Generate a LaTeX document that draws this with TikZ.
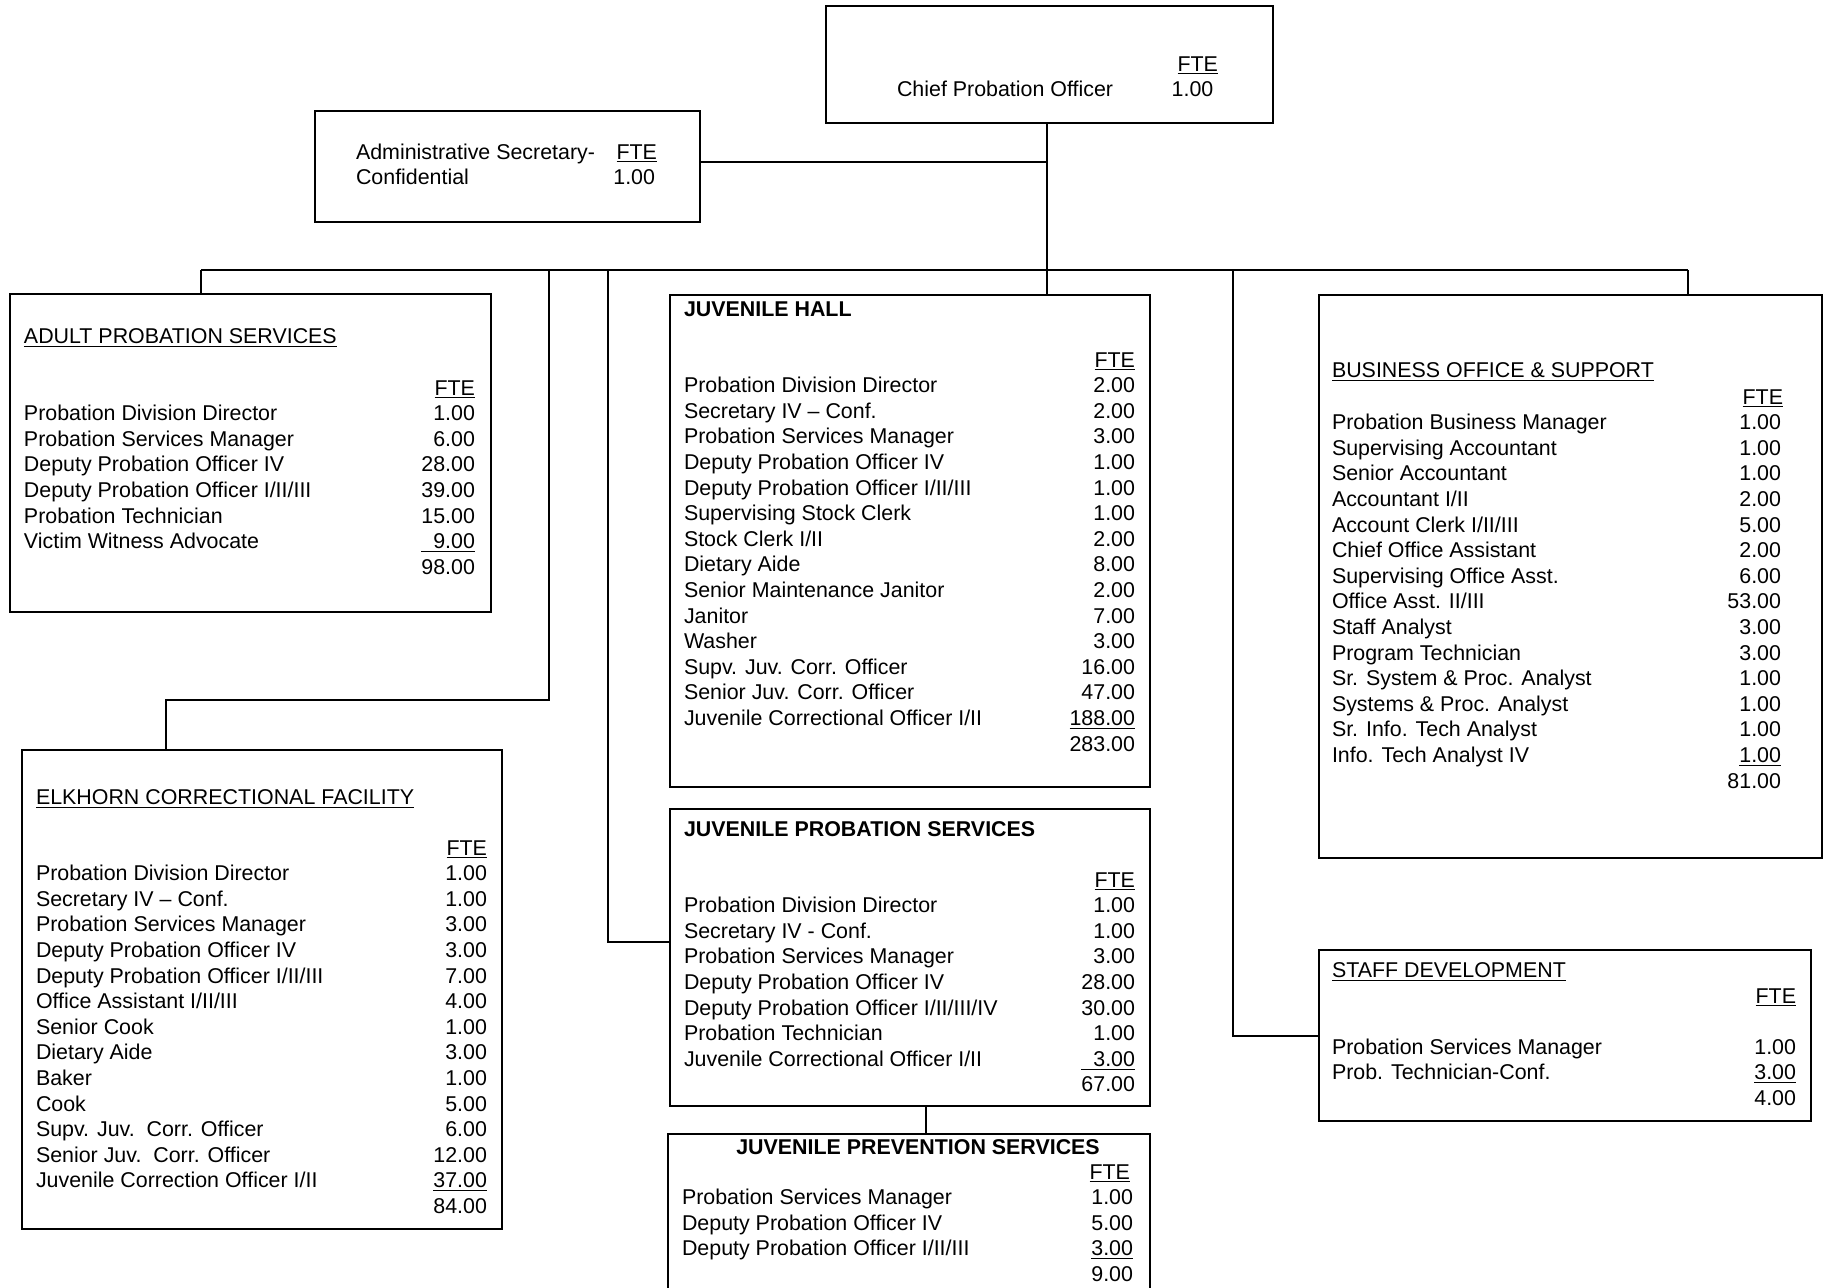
\documentclass[tikz,border=0pt]{standalone}
\usepackage{fontspec}
\setmainfont{Liberation Sans}
\usetikzlibrary{positioning,calc}
\newcommand{\ftetab}[2]{\begin{tabular*}{#1}[t]{@{}l@{\extracolsep{\fill}}r@{}}#2\end{tabular*}}
\begin{document}
\begin{tikzpicture}[x=0.5pt,y=-0.5pt,line width=1pt,
font=\fontsize{10.7}{12.8}\selectfont,
unitbox/.style={draw,anchor=north west,inner sep=0pt},
tbl/.style={anchor=base west,inner sep=0pt},
ttl/.style={anchor=base west,inner sep=0pt}]
\useasboundingbox (0,0) rectangle (1824,1287);
\clip (0,0) rectangle (1824,1287);
\node[unitbox,minimum width=223.5pt,minimum height=58.5pt] (chief) at (825,5) {};
\node[unitbox,minimum width=192.5pt,minimum height=55.5pt] (admin) at (314,110) {};
\node[unitbox,minimum width=240.5pt,minimum height=159pt] (adult) at (9,293) {};
\node[unitbox,minimum width=240pt,minimum height=239.5pt] (elk) at (21,749) {};
\node[unitbox,minimum width=240pt,minimum height=246pt] (hall) at (669,294) {};
\node[unitbox,minimum width=240pt,minimum height=148.5pt] (jprob) at (669,808) {};
\node[unitbox,minimum width=241pt,minimum height=100pt] (jprev) at (667,1133) {};
\node[unitbox,minimum width=251.5pt,minimum height=281.5pt] (busoff) at (1318,294) {};
\node[unitbox,minimum width=246pt,minimum height=85.5pt] (staff) at (1318,949) {};
\coordinate (trunk) at (1047,270);
\coordinate (tadult) at (201,270);
\coordinate (telk) at (549,270);
\coordinate (tjprob) at (608,270);
\coordinate (tstaff) at (1233,270);
\coordinate (tbusoff) at (1688,270);
\coordinate (elkbend) at (549,700);
\draw (trunk |- chief.south) -- (trunk);
\draw ([yshift=2.5pt]admin.east) -- ([yshift=2.5pt]admin.east -| trunk);
\draw (tadult) -- (tbusoff);
\draw (tadult) -- (tadult |- adult.north);
\draw (telk) -- (elkbend) -| ([xshift=-48pt]elk.north);
\draw (tjprob) |- ([yshift=8pt]jprob.west);
\draw (trunk) -- (trunk |- hall.north);
\draw (tstaff) |- (staff.west);
\draw (tbusoff) -- (tbusoff |- busoff.north);
\draw ([xshift=8pt]jprob.south) -- ([xshift=8pt]jprob.south |- jprev.north);
\node[tbl] (chieftab) at (896,71) {\ftetab{160.5pt}{ & \underline{FTE}\\ Chief Probation Officer & 1.00\kern2.3pt}};
\node[tbl] (admintab) at (355,159) {\ftetab{150.5pt}{Administrative Secretary- & \underline{FTE}\\ Confidential & 1.00\kern1pt}};
\node[ttl] (adultttl) at (23,343) {\underline{ADULT PROBATION SERVICES}};
\node[tbl] (adulttab) at (23,395) {\ftetab{225.5pt}{
 & \underline{FTE}\\
Probation Division Director & 1.00\\
Probation Services Manager & 6.00\\
Deputy Probation Officer IV & 28.00\\
Deputy Probation Officer I/II/III & 39.00\\
Probation Technician & 15.00\\
Victim Witness Advocate & \underline{\hphantom{2}9.00}\\
 & 98.00}};
\node[ttl] (elkttl) at (35,804) {\underline{ELKHORN CORRECTIONAL FACILITY}};
\node[tbl] (elktab) at (35,855) {\ftetab{225.5pt}{
 & \underline{FTE}\\
Probation Division Director & 1.00\\
Secretary IV – Conf. & 1.00\\
Probation Services Manager & 3.00\\
Deputy Probation Officer IV & 3.00\\
Deputy Probation Officer I/II/III & 7.00\\
Office Assistant I/II/III & 4.00\\
Senior Cook & 1.00\\
Dietary Aide & 3.00\\
Baker & 1.00\\
Cook & 5.00\\
Supv. Juv.\ \ Corr. Officer & 6.00\\
Senior Juv.\ \ Corr. Officer & 12.00\\
Juvenile Correction Officer I/II & \underline{37.00}\\
 & 84.00}};
\node[ttl] (hallttl) at (683,316) {\textbf{JUVENILE HALL}};
\node[tbl] (halltab) at (683,367) {\ftetab{225.5pt}{
 & \underline{FTE}\\
Probation Division Director & 2.00\\
Secretary IV – Conf. & 2.00\\
Probation Services Manager & 3.00\\
Deputy Probation Officer IV & 1.00\\
Deputy Probation Officer I/II/III & 1.00\\
Supervising Stock Clerk & 1.00\\
Stock Clerk I/II & 2.00\\
Dietary Aide & 8.00\\
Senior Maintenance Janitor & 2.00\\
Janitor & 7.00\\
Washer & 3.00\\
Supv. Juv. Corr. Officer & 16.00\\
Senior Juv. Corr. Officer & 47.00\\
Juvenile Correctional Officer I/II & \underline{188.00}\\
 & 283.00}};
\node[ttl] (jprobttl) at (683,836) {\textbf{JUVENILE PROBATION SERVICES}};
\node[tbl] (jprobtab) at (683,887) {\ftetab{225.5pt}{
 & \underline{FTE}\\
Probation Division Director & 1.00\\
Secretary IV - Conf. & 1.00\\
Probation Services Manager & 3.00\\
Deputy Probation Officer IV & 28.00\\
Deputy Probation Officer I/II/III/IV & 30.00\\
Probation Technician & 1.00\\
Juvenile Correctional Officer I/II & \underline{\hphantom{0}3.00}\\
 & 67.00}};
\node[ttl,anchor=base] (jprevttl) at (918,1154) {\textbf{JUVENILE PREVENTION SERVICES}};
\node[tbl] (jprevtab) at (681,1179) {\ftetab{225.5pt}{
 & \underline{FTE}\kern1.5pt\\
Probation Services Manager & 1.00\\
Deputy Probation Officer IV & 5.00\\
Deputy Probation Officer I/II/III & \underline{3.00}\\
 & 9.00}};
\node[ttl] (busoffttl) at (1331,377) {\underline{BUSINESS OFFICE \& SUPPORT}};
\node[tbl] (busofftab) at (1331,404) {\ftetab{225.5pt}{
 & \underline{FTE}\\
Probation Business Manager & 1.00\kern1pt\\
Supervising Accountant & 1.00\kern1pt\\
Senior Accountant & 1.00\kern1pt\\
Accountant I/II & 2.00\kern1pt\\
Account Clerk I/II/III & 5.00\kern1pt\\
Chief Office Assistant & 2.00\kern1pt\\
Supervising Office Asst. & 6.00\kern1pt\\
Office Asst. II/III & 53.00\kern1pt\\
Staff Analyst & 3.00\kern1pt\\
Program Technician & 3.00\kern1pt\\
Sr. System \& Proc. Analyst & 1.00\kern1pt\\
Systems \& Proc. Analyst & 1.00\kern1pt\\
Sr. Info. Tech Analyst & 1.00\kern1pt\\
Info. Tech Analyst IV & \underline{1.00}\kern1pt\\
 & 81.00\kern1pt}};
\node[ttl] (staffttl) at (1331,977) {\underline{STAFF DEVELOPMENT}};
\node[tbl] (stafftab) at (1331,1003) {\ftetab{232pt}{
 & \underline{FTE}\\
 & \\
Probation Services Manager & 1.00\\
Prob. Technician-Conf. & \underline{3.00}\\
 & 4.00}};
\end{tikzpicture}
\end{document}
